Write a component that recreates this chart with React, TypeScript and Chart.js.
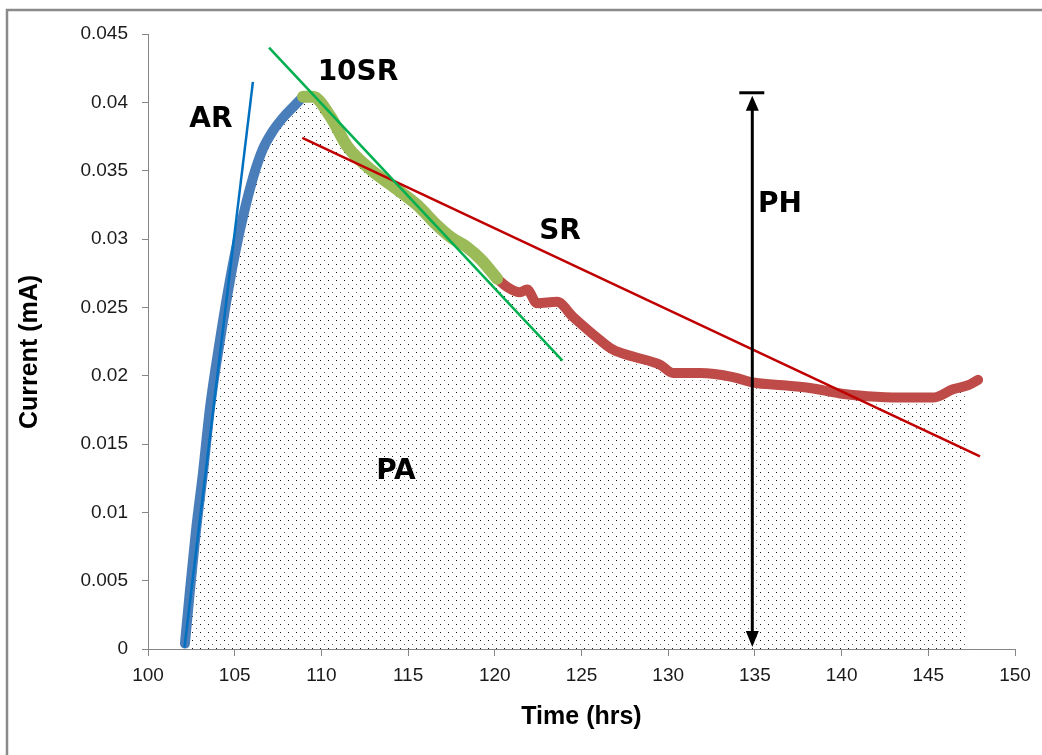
import React, { useEffect, useRef } from 'react';
import { Chart, registerables } from 'chart.js';

Chart.register(...registerables);

// Rising part of the current curve (blue)
const blueTime = [102.13, 102.42, 102.77, 103.17, 103.58, 104.15, 104.73, 105.31, 106.06, 106.63, 107.2, 107.8, 108.4, 108.94];
const blueCurrent = [0.0004, 0.0043, 0.0087, 0.0129, 0.0177, 0.0226, 0.027, 0.0307, 0.0345, 0.0366, 0.0379, 0.0389, 0.0397, 0.0404];

// First ten hours after the peak (green)
const greenTime = [108.94, 109.5, 110.5, 111.48, 112.63, 113.96, 115.51, 116.67, 117.5, 118.4, 119.2, 120.13];
const greenCurrent = [0.0404, 0.0404, 0.039, 0.0368, 0.0353, 0.034, 0.0325, 0.031, 0.0301, 0.0294, 0.0285, 0.0271];

// Remaining decay (red)
const redTime = [120.13, 120.7, 121.45, 121.86, 122.43, 123.59, 124.51, 126.07, 126.82, 127.97, 129.53, 130.28, 131.83, 133.74, 134.89, 136.62, 138.18, 139.91, 141.47, 143.37, 145.27, 146.42, 147.3, 147.87];
const redCurrent = [0.0271, 0.0265, 0.0261, 0.0263, 0.0253, 0.0254, 0.0243, 0.0226, 0.0219, 0.0214, 0.0208, 0.0202, 0.0202, 0.0199, 0.0195, 0.0193, 0.0191, 0.0187, 0.0185, 0.0184, 0.0184, 0.019, 0.0193, 0.0197];

// Straight tangent / slope lines
const arTime = [102.1, 106.05];
const arCurrent = [0.0001, 0.0415];
const tenSrTime = [106.98, 123.9];
const tenSrCurrent = [0.044, 0.0211];
const srTime = [108.9, 147.98];
const srCurrent = [0.0374, 0.0141];

// Peak area end, peak height arrow
const paEndTime = 147.3;
const phTime = 134.85;
const phTop = 0.0407;
const phBottom = 0;

// Annotation labels
const labelTexts = ['AR', '10SR', 'SR', 'PH', 'PA'];
const labelTime = [103.63, 112.11, 123.76, 136.45, 114.3];
const labelCurrent = [0.0387, 0.0422, 0.0305, 0.0325, 0.013];

// Axis ticks and titles
const xMin = 100, xMax = 150, xStep = 5;
const yMin = 0, yMax = 0.045, yStep = 0.005;
const xTitle = 'Time (hrs)';
const yTitle = 'Current (mA)';

const toXY = (ts: number[], cs: number[]) => ts.map((t, i) => ({ x: t, y: cs[i] }));

export default function App() {
  const ref = useRef<HTMLCanvasElement>(null);

  useEffect(() => {
    const canvas = ref.current!;
    const pc = document.createElement('canvas');
    pc.width = 8;
    pc.height = 8;
    const pctx = pc.getContext('2d')!;
    pctx.fillStyle = '#111111';
    pctx.fillRect(0, 0, 1, 1);
    pctx.fillStyle = '#6e6e6e';
    pctx.fillRect(4, 4, 1, 1);
    const pattern = canvas.getContext('2d')!.createPattern(pc, 'repeat');

    const blue = toXY(blueTime, blueCurrent);
    const green = toXY(greenTime, greenCurrent);
    const red = toXY(redTime, redCurrent);
    const fillData = [...blue, ...green.slice(1), ...red.slice(1)].filter((p) => p.x <= paEndTime);

    const borderPlugin = {
      id: 'frame',
      beforeDraw(chart: any) {
        const ctx = chart.ctx;
        ctx.save();
        ctx.fillStyle = '#ffffff';
        ctx.fillRect(0, 0, chart.width, chart.height);
        ctx.strokeStyle = '#8a8a8a';
        ctx.lineWidth = 2.5;
        ctx.strokeRect(7, 10, chart.width + 40, chart.height + 40);
        ctx.restore();
      },
    };

    const annotPlugin = {
      id: 'annot',
      afterDatasetsDraw(chart: any) {
        const ctx = chart.ctx;
        const xs = chart.scales.x;
        const ys = chart.scales.y;
        ctx.save();
        // PH arrow
        const px = xs.getPixelForValue(phTime);
        const yt = ys.getPixelForValue(phTop);
        const yb = ys.getPixelForValue(phBottom);
        ctx.strokeStyle = '#000';
        ctx.fillStyle = '#000';
        ctx.lineWidth = 3;
        ctx.beginPath();
        ctx.moveTo(px - 13, yt);
        ctx.lineTo(px + 12, yt);
        ctx.stroke();
        ctx.beginPath();
        ctx.moveTo(px, yt + 12);
        ctx.lineTo(px, yb - 12);
        ctx.stroke();
        ctx.beginPath();
        ctx.moveTo(px, yt + 3);
        ctx.lineTo(px - 6.5, yt + 18);
        ctx.lineTo(px + 6.5, yt + 18);
        ctx.closePath();
        ctx.fill();
        ctx.beginPath();
        ctx.moveTo(px, yb - 2);
        ctx.lineTo(px - 6.5, yb - 18);
        ctx.lineTo(px + 6.5, yb - 18);
        ctx.closePath();
        ctx.fill();
        // labels
        ctx.font = "bold 28px 'DejaVu Sans'";
        ctx.textAlign = 'center';
        ctx.textBaseline = 'middle';
        labelTexts.forEach((txt, i) => {
          ctx.fillText(txt, xs.getPixelForValue(labelTime[i]), ys.getPixelForValue(labelCurrent[i]));
        });
        // y axis title
        ctx.font = "bold 25px 'Liberation Sans'";
        ctx.translate(30, 352);
        ctx.rotate(-Math.PI / 2);
        ctx.fillText(yTitle, 0, 0);
        ctx.restore();
      },
    };

    const curveStyle = {
      showLine: true,
      pointRadius: 0,
      borderWidth: 10,
      borderCapStyle: 'round',
      borderJoinStyle: 'round',
      cubicInterpolationMode: 'monotone',
      fill: false,
    };
    const lineStyle = {
      showLine: true,
      pointRadius: 0,
      borderWidth: 2.5,
      fill: false,
    };

    const chart = new Chart(canvas, {
      type: 'scatter',
      data: {
        datasets: [
          {
            label: 'PA',
            data: fillData,
            showLine: true,
            pointRadius: 0,
            borderWidth: 0,
            borderColor: 'rgba(0,0,0,0)',
            backgroundColor: pattern as any,
            fill: 'origin',
            cubicInterpolationMode: 'monotone',
            order: 10,
          },
          { label: 'rise', data: blue, borderColor: '#4a7ebb', ...curveStyle, order: 5 } as any,
          { label: 'ten', data: green, borderColor: '#9bbb59', ...{ ...curveStyle, borderWidth: 12 }, order: 4 } as any,
          { label: 'decay', data: red, borderColor: '#be4b48', ...curveStyle, order: 4 } as any,
          { label: 'AR', data: toXY(arTime, arCurrent), borderColor: '#0070c0', ...lineStyle, order: 1 } as any,
          { label: '10SR', data: toXY(tenSrTime, tenSrCurrent), borderColor: '#00b050', ...lineStyle, order: 1 } as any,
          { label: 'SR', data: toXY(srTime, srCurrent), borderColor: '#c00000', ...lineStyle, order: 1 } as any,
        ],
      },
      options: {
        animation: false,
        responsive: false,
        layout: { padding: { left: 0, right: 27, top: 34, bottom: 0 } },
        plugins: { legend: { display: false }, tooltip: { enabled: false } },
        scales: {
          x: {
            type: 'linear',
            min: xMin,
            max: xMax,
            ticks: {
              stepSize: xStep,
              color: '#1a1a1a',
              font: { family: 'Liberation Sans', size: 19 },
              padding: 8,
              maxRotation: 0,
            },
            grid: { drawOnChartArea: false, drawTicks: true, tickLength: 7, color: '#868686' },
            border: { color: '#868686', width: 1 },
            title: {
              display: true,
              text: xTitle,
              color: '#000',
              font: { family: 'Liberation Sans', size: 25, weight: 'bold' },
              padding: { top: 0, bottom: 23 },
            },
            afterFit: (s: any) => {
              s.height = 106;
            },
          },
          y: {
            type: 'linear',
            min: yMin,
            max: yMax,
            ticks: {
              stepSize: yStep,
              color: '#1a1a1a',
              font: { family: 'Liberation Sans', size: 19 },
              padding: 14,
              callback: (v: any) => String(parseFloat(Number(v).toFixed(3))),
            },
            grid: { drawOnChartArea: false, drawTicks: true, tickLength: 6, color: '#868686' },
            border: { color: '#868686', width: 1 },
            title: { display: false },
            afterFit: (s: any) => {
              s.width = 148;
            },
          },
        },
      },
      plugins: [borderPlugin, annotPlugin],
    } as any);

    return () => chart.destroy();
  }, []);

  return (
    <div style={{ position: 'fixed', left: 0, top: 0, width: 1042, height: 755, background: '#fff' }}>
      <canvas ref={ref} width={1042} height={755} style={{ display: 'block', width: 1042, height: 755 }} />
    </div>
  );
}
